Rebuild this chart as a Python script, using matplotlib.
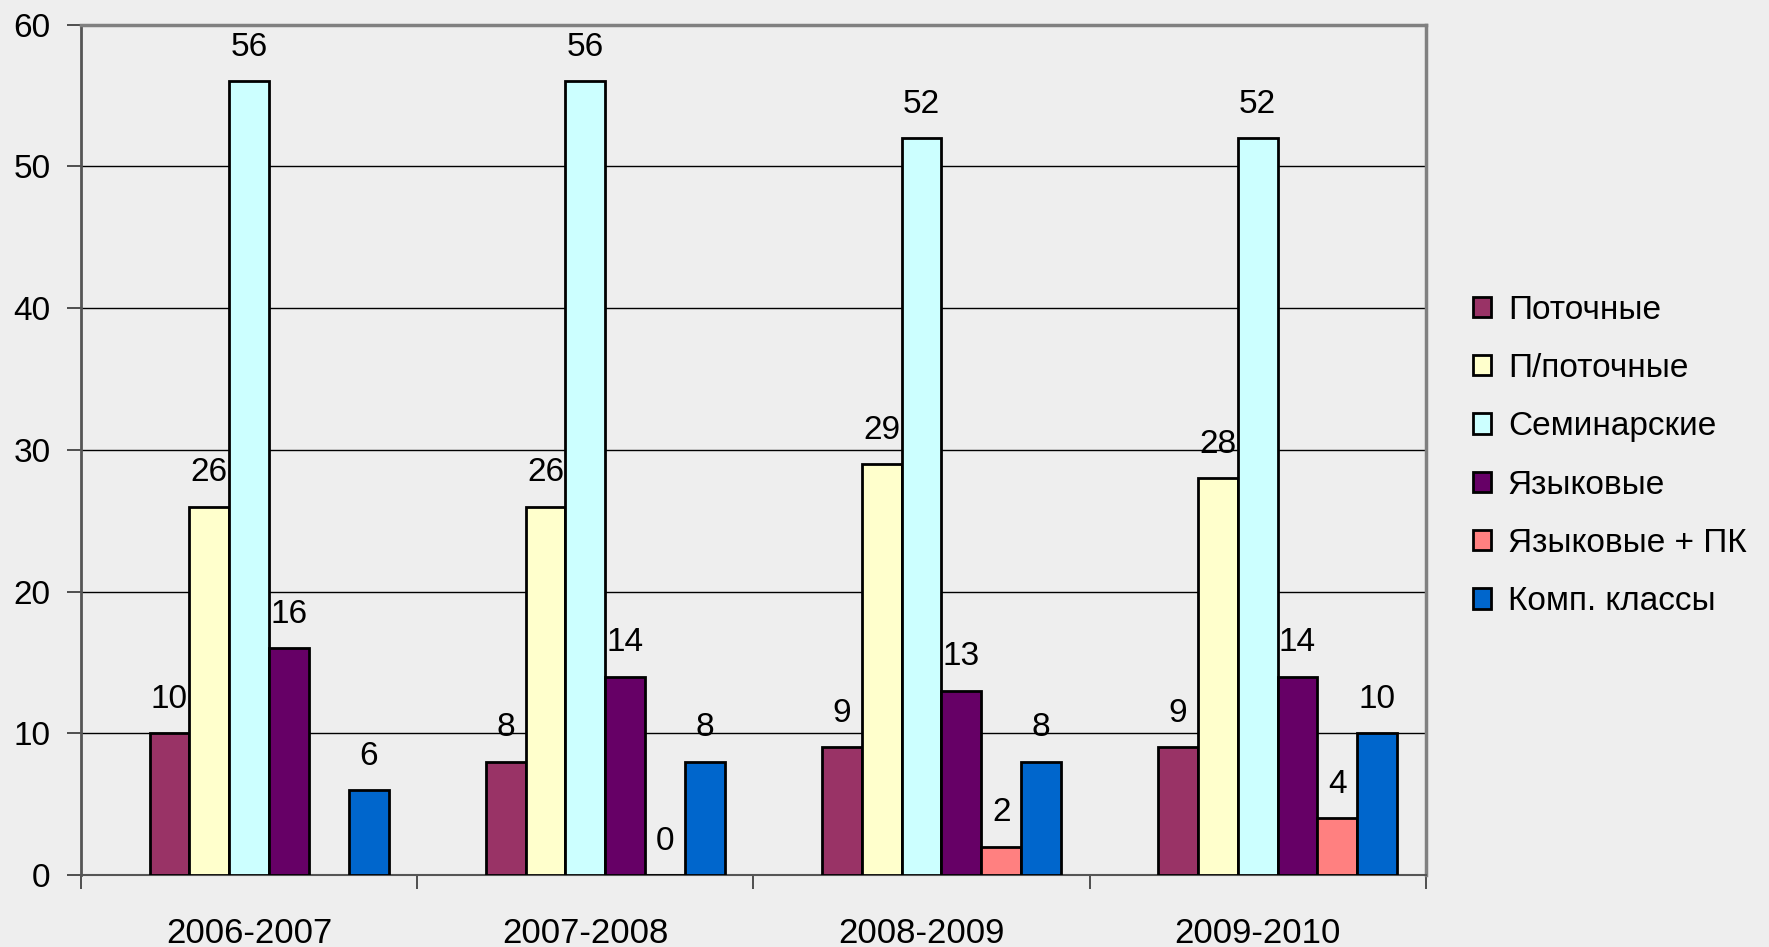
import numpy as np
import matplotlib.pyplot as plt

# Данные диаграммы
years = ['2006-2007', '2007-2008', '2008-2009', '2009-2010']
series_names = ['Поточные', 'П/поточные', 'Семинарские', 'Языковые',
                'Языковые + ПК', 'Комп. классы']
potochnye = [10, 8, 9, 9]
p_potochnye = [26, 26, 29, 28]
seminarskie = [56, 56, 52, 52]
yazykovye = [16, 14, 13, 14]
yazykovye_pk = [np.nan, 0, 2, 4]
komp_klassy = [6, 8, 8, 10]
colors = ['#993366', '#FFFFCC', '#CCFFFF', '#660066', '#FF8080', '#0066CC']

all_series = [potochnye, p_potochnye, seminarskie, yazykovye, yazykovye_pk, komp_klassy]

plt.rcParams['font.family'] = ['Liberation Sans', 'DejaVu Sans']
bg = '#EEEEEE'

fig = plt.figure(figsize=(17.69, 9.47), dpi=100, facecolor=bg)
ax = fig.add_axes([0.0458, 0.076, 0.7602, 0.898])
ax.set_facecolor(bg)

x = np.arange(len(years)) + 0.5
w = 0.1185
# 7 Позиций в группе, первая пустая
for i, (vals, name, c) in enumerate(zip(all_series, series_names, colors)):
    offs = (i + 1 - 3) * w
    bars = ax.bar(x + offs, vals, width=w, color=c, edgecolor='black',
                  linewidth=2, label=name, zorder=3)
    for xi, v in zip(x + offs, vals):
        if not np.isnan(v):
            ax.text(xi, v + 1.3, '%d' % v, ha='center', va='bottom',
                    fontsize=24, zorder=4)

ax.set_xlim(0, 4)
ax.set_ylim(0, 60)
ax.set_yticks(range(0, 61, 10))
ax.yaxis.grid(True, color='black', linewidth=1.0, zorder=1)
ax.set_xticks([0, 1, 2, 3, 4])
ax.set_xticklabels([])
ax.set_xticks(x, minor=True)
ax.set_xticklabels(years, minor=True, fontsize=25)
ax.tick_params(axis='x', which='minor', length=0, pad=30)
ax.tick_params(axis='x', which='major', length=10, width=1.2, color='#333333', direction='out')
ax.tick_params(axis='y', length=10, width=1.2, color='#333333', direction='out', labelsize=24, pad=12)

for side in ['top', 'right']:
    ax.spines[side].set_color('#808080')
    ax.spines[side].set_linewidth(2.5)
ax.spines['left'].set_color('#555555')
ax.spines['left'].set_linewidth(2)
ax.spines['bottom'].set_color('#555555')
ax.spines['bottom'].set_linewidth(1.5)

fig.legend(loc='upper left', bbox_to_anchor=(0.825, 0.703), frameon=False,
           fontsize=24, handlelength=0.55, handleheight=0.55, handletextpad=0.5,
           labelspacing=0.82, borderaxespad=0)

fig.savefig('out.png', dpi=100, facecolor=bg)
